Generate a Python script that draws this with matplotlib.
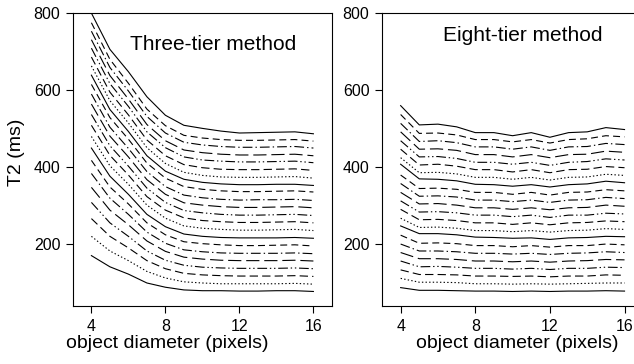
import matplotlib
matplotlib.use("Agg")
import matplotlib.pyplot as plt

plt.rcParams["font.family"] = ["Liberation Sans", "DejaVu Sans"]
plt.rcParams["lines.scale_dashes"] = False

# object diameter (pixels)
diameter = [4, 5, 6, 7, 8, 9, 10, 11, 12, 13, 14, 15, 16]

# T2 (ms), one row per curve, from lowest to highest
three_tier = [
    [171, 142, 123, 100, 89, 82, 80, 80, 79, 79, 80, 80, 78],
    [221, 183, 158, 130, 113, 103, 100, 98, 98, 98, 98, 99, 97],
    [267, 221, 191, 158, 137, 125, 121, 119, 118, 118, 118, 119, 117],
    [309, 256, 221, 183, 159, 146, 141, 139, 138, 138, 138, 139, 137],
    [348, 289, 251, 209, 182, 167, 162, 159, 158, 158, 158, 159, 157],
    [384, 320, 278, 232, 203, 186, 181, 178, 177, 177, 177, 178, 176],
    [418, 349, 305, 256, 225, 207, 202, 199, 197, 197, 198, 199, 196],
    [450, 377, 330, 278, 246, 227, 221, 218, 217, 217, 217, 218, 216],
    [480, 404, 356, 302, 268, 248, 242, 239, 237, 237, 238, 239, 236],
    [509, 431, 380, 324, 289, 269, 262, 259, 257, 257, 258, 259, 256],
    [537, 456, 403, 346, 309, 288, 282, 278, 276, 276, 277, 278, 275],
    [564, 481, 427, 368, 330, 308, 302, 298, 296, 296, 297, 298, 295],
    [590, 504, 449, 389, 350, 328, 321, 317, 315, 316, 316, 317, 314],
    [615, 529, 473, 411, 372, 350, 343, 339, 337, 337, 338, 339, 336],
    [639, 550, 493, 430, 390, 369, 361, 357, 355, 355, 356, 356, 353],
    [663, 573, 515, 451, 410, 387, 379, 375, 374, 374, 375, 376, 372],
    [686, 595, 536, 471, 430, 407, 399, 395, 394, 394, 395, 396, 392],
    [709, 617, 558, 492, 451, 427, 419, 416, 414, 414, 415, 416, 412],
    [731, 638, 577, 511, 469, 445, 438, 434, 432, 432, 433, 434, 430],
    [753, 659, 598, 532, 489, 465, 458, 454, 452, 452, 453, 454, 450],
    [775, 680, 618, 551, 508, 483, 476, 472, 470, 470, 471, 472, 468],
    [800, 706, 648, 583, 535, 509, 501, 494, 489, 490, 491, 492, 487],
]

eight_tier = [
    [88, 81, 81, 80, 79, 79, 78, 79, 78, 79, 79, 80, 79],
    [112, 102, 102, 101, 98, 98, 97, 98, 97, 98, 99, 100, 100],
    [134, 122, 122, 121, 118, 118, 117, 118, 116, 118, 118, 121, 120],
    [157, 142, 143, 141, 138, 138, 136, 138, 135, 138, 138, 141, 140],
    [179, 163, 163, 161, 157, 157, 155, 157, 154, 157, 158, 161, 160],
    [201, 183, 183, 181, 177, 177, 175, 177, 174, 177, 178, 181, 179],
    [224, 203, 204, 202, 197, 197, 194, 197, 193, 197, 197, 201, 199],
    [248, 228, 228, 225, 219, 218, 216, 217, 213, 217, 218, 221, 220],
    [268, 244, 245, 242, 236, 236, 233, 236, 232, 236, 237, 241, 239],
    [291, 264, 265, 262, 256, 256, 252, 256, 251, 256, 257, 261, 259],
    [313, 284, 285, 282, 276, 276, 272, 276, 270, 276, 276, 281, 279],
    [335, 305, 306, 302, 295, 295, 291, 295, 290, 295, 296, 302, 299],
    [358, 325, 326, 323, 315, 315, 311, 315, 309, 315, 316, 322, 319],
    [380, 345, 346, 343, 335, 335, 330, 335, 328, 335, 336, 342, 339],
    [408, 370, 369, 365, 356, 355, 351, 355, 349, 355, 357, 364, 360],
    [425, 386, 387, 383, 374, 374, 369, 374, 367, 374, 375, 382, 379],
    [447, 406, 408, 403, 394, 394, 388, 394, 386, 394, 395, 402, 399],
    [469, 427, 428, 423, 413, 413, 408, 413, 405, 413, 415, 422, 419],
    [492, 447, 448, 444, 433, 433, 427, 433, 425, 433, 434, 442, 439],
    [514, 467, 469, 464, 453, 453, 447, 453, 444, 453, 454, 462, 459],
    [537, 488, 489, 484, 472, 472, 466, 472, 463, 472, 474, 482, 479],
    [560, 510, 512, 505, 490, 490, 482, 490, 478, 490, 492, 503, 498],
]

panel_titles = ["Three-tier method", "Eight-tier method"]

# repeating line styles (dash lengths in points)
styles = [
    "-",
    (0, (1.0, 1.6)),
    (0, (6.0, 3.0)),
    (0, (7.0, 2.0, 1.0, 2.0, 1.0, 2.0)),
    (0, (9.5, 3.5)),
    (0, (7.0, 2.2, 1.0, 2.2)),
    (0, (5.0, 3.0)),
]

fig = plt.figure(figsize=(6.34, 3.64), dpi=100)
ax1 = fig.add_axes([0.115, 0.159, 0.4085, 0.805])
ax2 = fig.add_axes([0.6025, 0.159, 0.412, 0.805])

for ax, rows, title, tx, ty, lx in [
    (ax1, three_tier, panel_titles[0], 10.6, 718, 0.363),
    (ax2, eight_tier, panel_titles[1], 10.55, 742, 0.517),
]:
    for i, row in enumerate(rows):
        ax.plot(diameter, row, color="black", lw=0.8,
                linestyle=styles[i % len(styles)])
    ax.set_xlim(3, 17)
    ax.set_ylim(40, 800)
    ax.set_xticks([4, 8, 12, 16])
    ax.set_yticks([200, 400, 600, 800])
    ax.tick_params(direction="out", length=5, width=0.8, labelsize=11.5,
                   top=False, right=False, pad=4)
    for s in ax.spines.values():
        s.set_linewidth(0.8)
    ax.set_xlabel("object diameter (pixels)", fontsize=14)
    ax.xaxis.set_label_coords(lx, -0.098)
    ax.text(tx, ty, title, ha="center", va="center", fontsize=15)

ax1.set_ylabel("T2 (ms)", fontsize=14)
ax1.yaxis.set_label_coords(-0.185, 0.526)

fig.savefig("out.png", dpi=100)
